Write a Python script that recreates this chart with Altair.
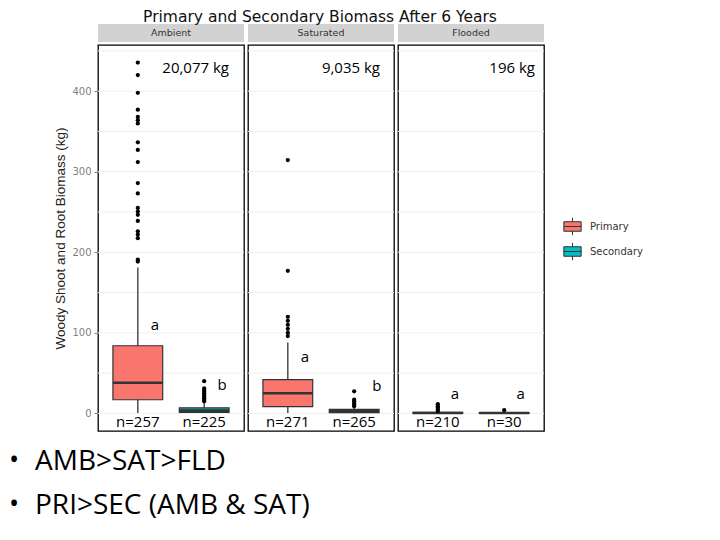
import altair as alt
import pandas as pd

# ---------------- data ----------------
panels = ["Ambient", "Saturated", "Flooded"]
types = ["Primary", "Secondary"]

# box summaries [panel][type] -> (lower whisker, q1, median, q3, upper whisker)
box_stats = {
    ("Ambient", "Primary"): (0.5, 17, 38, 84, 181),
    ("Ambient", "Secondary"): (0.5, 1.2, 3.5, 7, 14),
    ("Saturated", "Primary"): (0.5, 8.5, 25, 42, 88),
    ("Saturated", "Secondary"): (0.3, 1, 2.5, 5, 8),
    ("Flooded", "Primary"): (0, 0.2, 0.6, 1.2, 2.5),
    ("Flooded", "Secondary"): (0, 0.2, 0.5, 1, 2),
}

outliers = {
    ("Ambient", "Primary"): [435.5, 420, 398, 377, 368, 364, 360, 336.5, 327, 312,
                             286, 273, 255, 250.5, 246.5, 239, 226, 222, 217.5, 191, 188.5],
    ("Ambient", "Secondary"): [15, 17, 19, 21, 23, 25, 27, 29, 31, 40],
    ("Saturated", "Primary"): [96, 100, 105, 110, 115, 120, 177, 314.5],
    ("Saturated", "Secondary"): [9, 11, 13, 15, 17, 27.5],
    ("Flooded", "Primary"): [3, 5, 7, 9, 11.5],
    ("Flooded", "Secondary"): [4],
}

n_labels = {
    ("Ambient", "Primary"): "n=257", ("Ambient", "Secondary"): "n=225",
    ("Saturated", "Primary"): "n=271", ("Saturated", "Secondary"): "n=265",
    ("Flooded", "Primary"): "n=210", ("Flooded", "Secondary"): "n=30",
}

# significance letters: (panel, text, x slot, y value of baseline)
letters = [
    ("Ambient", "a", 1.258, 103), ("Ambient", "b", 2.27, 29.3),
    ("Saturated", "a", 1.258, 64), ("Saturated", "b", 2.34, 28),
    ("Flooded", "a", 1.258, 17.7), ("Flooded", "a", 2.25, 17.7),
]

totals = ["20,077 kg", "9,035 kg", "196 kg"]
total_x = [131, 132, 137]

y_ticks = [0, 100, 200, 300, 400]
grid_vals = [0, 50, 100, 150, 200, 250, 300, 350, 400, 450]

title_text = "Primary and Secondary Biomass After 6 Years"
y_title = "Woody Shoot and Root Biomass (kg)"
bullets = ["AMB>SAT>FLD", "PRI>SEC (AMB & SAT)"]

colors = ["#F8766D", "#00BFC4"]

# ---------------- tables ----------------
slot = {"Primary": 1, "Secondary": 2}
box_rows, out_rows, n_rows = [], [], []
for p in panels:
    for t in types:
        lo, q1, med, q3, up = box_stats[(p, t)]
        box_rows.append(dict(panel=p, type=t, pos=slot[t], lower=lo, q1=q1, med=med, q3=q3, upper=up))
        for v in outliers[(p, t)]:
            out_rows.append(dict(panel=p, type=t, pos=slot[t], value=v))
        n_rows.append(dict(panel=p, pos=slot[t], label=n_labels[(p, t)], ny=-16.6))
box_df = pd.DataFrame(box_rows)
out_df = pd.DataFrame(out_rows)
n_df = pd.DataFrame(n_rows)
let_df = pd.DataFrame(letters, columns=["panel", "label", "lx", "ly"])
grid_df = pd.DataFrame({"g": grid_vals})
bul_df = pd.DataFrame({"t": bullets, "k": [0, 1]})

W, H = 146, 386
xs = alt.Scale(domain=[0.4, 2.6], nice=False, zero=False)
ys = alt.Scale(domain=[-21.8, 457.3], nice=False, zero=False)
cs = alt.Scale(domain=types, range=colors)
ANN_FONT = "Open Sans"
GG_FONT = "DejaVu Sans"
LEG = alt.Legend(title=None, orient="none", legendX=465, legendY=172)


def panel_chart(i, p):
    yax = None
    if i == 0:
        yax = alt.Axis(values=y_ticks, title=y_title, grid=False, domain=False,
                       labelColor="#7f7f7f", labelFontSize=10, labelFont=GG_FONT,
                       tickColor="#7f7f7f", tickSize=4, labelPadding=3,
                       titleFont="Liberation Sans", titleFontSize=13.5,
                       titleFontWeight="normal", titleColor="#222222", titlePadding=4)
    X = lambda f: alt.X(f, type="quantitative", scale=xs, axis=None)
    Y = lambda f: alt.Y(f, type="quantitative", scale=ys, axis=yax)

    b = box_df[box_df.panel == p]
    o = out_df[out_df.panel == p]
    nn = n_df[n_df.panel == p]
    ll = let_df[let_df.panel == p]

    grid = alt.Chart(grid_df).mark_rule(color="#efefef", strokeWidth=1).encode(
        y=Y("g"), x=alt.value(0), x2=alt.value(W))
    whisk = alt.Chart(b).mark_rule(color="#333333", strokeWidth=1.3).encode(
        x=X("pos"), y=Y("lower"), y2="upper")
    boxes = alt.Chart(b).transform_calculate(
        xlo="datum.pos - 0.375", xhi="datum.pos + 0.375"
    ).mark_rect(stroke="#333333", strokeWidth=1.2).encode(
        x=X("xlo"), x2="xhi", y=Y("q1"), y2="q3",
        color=alt.Color("type:N", scale=cs, legend=LEG))
    med = alt.Chart(b).transform_calculate(
        xlo="datum.pos - 0.375", xhi="datum.pos + 0.375"
    ).mark_rule(color="#333333", strokeWidth=2.6).encode(
        x=X("xlo"), x2="xhi", y=Y("med"))
    pts = alt.Chart(o).mark_circle(size=18, color="black", opacity=1).encode(
        x=X("pos"), y=Y("value"))
    lets = alt.Chart(ll).mark_text(font=ANN_FONT, fontSize=15, color="black",
                                   baseline="alphabetic").encode(
        x=X("lx"), y=Y("ly"), text="label:N")
    ns = alt.Chart(nn).mark_text(font=ANN_FONT, fontSize=15, color="black",
                                 baseline="alphabetic").encode(
        x=X("pos"), y=Y("ny"), text="label:N")
    tot = alt.Chart(pd.DataFrame({"t": [totals[i]]})).mark_text(
        font=ANN_FONT, fontSize=15, color="black", align="right", baseline="alphabetic"
    ).encode(x=alt.value(total_x[i]), y=alt.value(28), text="t:N")
    strip = alt.Chart(pd.DataFrame({"panel": [p]})).mark_rect(color="#d2d2d2").encode(
        x=alt.value(0), x2=alt.value(W), y=alt.value(-21), y2=alt.value(-3))
    strip_t = alt.Chart(pd.DataFrame({"panel": [p]})).mark_text(
        font=GG_FONT, fontSize=9.5, color="#333333"
    ).encode(x=alt.value(W / 2), y=alt.value(-12), text="panel:N")

    layers = [grid, whisk, boxes, med, pts, lets, ns, tot, strip, strip_t]
    if i == 1:
        layers.append(alt.Chart(pd.DataFrame({"t": [title_text]})).mark_text(
            font=GG_FONT, fontSize=15.5, color="#111111", baseline="alphabetic"
        ).encode(x=alt.value(W / 2 - 1), y=alt.value(-23.5), text="t:N"))
    if i == 0:
        for k, (yb, yt) in enumerate([(415.7, 425), (459.7, 469)]):
            layers.append(alt.Chart(bul_df).transform_filter(f"datum.k == {k}").transform_calculate(
                b="'•'").mark_text(
                font=ANN_FONT, fontSize=27, color="black", align="center", baseline="middle"
            ).encode(x=alt.value(-84), y=alt.value(yb), text="b:N"))
            layers.append(alt.Chart(bul_df).transform_filter(f"datum.k == {k}").mark_text(
                font=ANN_FONT, fontSize=28, color="black", align="left", baseline="alphabetic"
            ).encode(x=alt.value(-63), y=alt.value(yt), text="t:N"))

    return alt.layer(*layers).properties(width=W, height=H)


chart = alt.hconcat(*[panel_chart(i, p) for i, p in enumerate(panels)],
                    spacing=4, bounds="flush").resolve_scale(color="shared").resolve_legend(
    color="shared").configure_view(
    stroke="black", strokeWidth=1.3
).configure_legend(
    labelFont=GG_FONT, labelFontSize=10, labelColor="#333333",
    symbolType="M-1,-0.55H1V0.55H-1Z M-1,0H1 M0,-0.55V-1 M0,0.55V1",
    symbolSize=300, symbolStrokeColor="#333333", symbolStrokeWidth=1,
    rowPadding=2, labelOffset=8, symbolOpacity=1
).properties(padding={"left": 0, "top": 0, "right": 5, "bottom": 10}, background="white")

chart.save("out.html", embed_options={"renderer": "svg", "actions": False})
